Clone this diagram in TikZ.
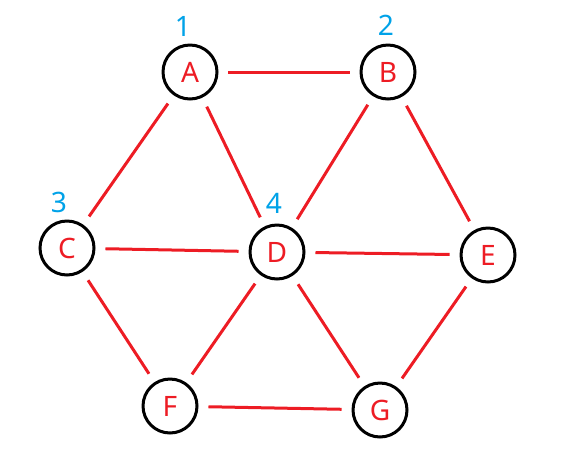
\documentclass[tikz,border=0pt]{standalone}
\usepackage{fontspec}
\newfontfamily\graphfont{Noto Sans}
\definecolor{paintred}{HTML}{ED1C24}
\definecolor{paintblue}{HTML}{00A2E8}
\usetikzlibrary{positioning}

\begin{document}
\begin{tikzpicture}[x=0.02cm, y=-0.02cm,
  vert/.style={circle, draw=black, line width=0.06cm, minimum size=1.08cm, inner sep=0pt,
               text=paintred, font=\graphfont\fontsize{16}{18}\selectfont},
  num/.style={inner sep=0pt, text=paintblue, font=\graphfont\fontsize{16}{18}\selectfont},
  link/.style={paintred, line width=0.06cm, shorten <=0.2cm, shorten >=0.2cm}]
  \useasboundingbox (0,0) rectangle (563,460);
  \node[vert] (A) at (190,72) {A};
  \node[vert] (B) at (388,72) {B};
  \node[vert] (C) at (67,248) {C};
  \node[vert] (D) at (277,252) {D};
  \node[vert] (E) at (488,255) {E};
  \node[vert] (F) at (170,406) {F};
  \node[vert] (G) at (380,410) {G};
  % visiting order
  \node[num] (n1) at (183,26) {1};
  \node[num] (n2) at (386,25) {2};
  \node[num] (n3) at (59,202) {3};
  \node[num] (n4) at (274,203) {4};
  % edges
  \draw[link] (A) -- (B);
  \draw[link] (A) -- (C);
  \draw[link] (A) -- (D);
  \draw[link] (B) -- (D);
  \draw[link] (B) -- (E);
  \draw[link] (C) -- (D);
  \draw[link] (D) -- (E);
  \draw[link] (C) -- (F);
  \draw[link] (D) -- (F);
  \draw[link] (D) -- (G);
  \draw[link] (E) -- (G);
  \draw[link] (F) -- (G);
\end{tikzpicture}
\end{document}
